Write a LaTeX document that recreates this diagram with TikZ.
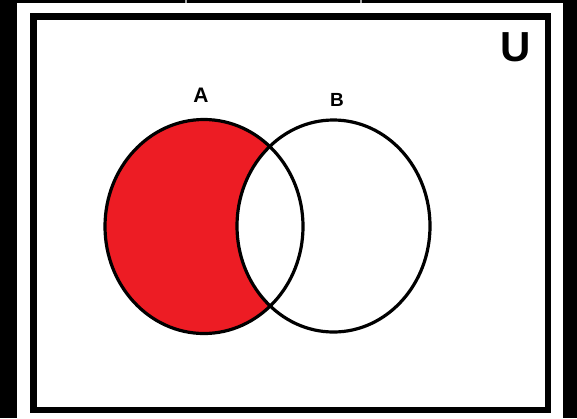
\documentclass[tikz,border=0pt]{standalone}
\usepackage{fontspec}
\setmainfont{Liberation Sans}
\definecolor{vred}{HTML}{ED1C24}
\tikzset{
  setline/.style={draw=black, line width=3.2pt},
  lbl/.style={font=\bfseries, inner sep=0pt},
}
\begin{document}
\begin{tikzpicture}[x=1pt,y=-1pt]
  \useasboundingbox (0,0) rectangle (577,418);
  \fill[black] (0,0) rectangle (577,418);
  \draw[gray!70, line width=1.5pt] (186,0) -- (186,3);
  \draw[gray!70, line width=1.5pt] (361,0) -- (361,3);
  % universe
  \fill[white] (17,3) rectangle (563,418);
  \draw[draw=black, line width=6.5pt] (33.5,16.5) rectangle (548,410);
  % A minus B
  \fill[vred] (204,226.5) ellipse [x radius=99, y radius=107];
  \begin{scope}
    \clip (204,226.5) ellipse [x radius=99, y radius=107];
    \fill[white] (333.5,226) ellipse [x radius=96.5, y radius=106];
  \end{scope}
  \draw[setline] (204,226.5) ellipse [x radius=99, y radius=107];
  \draw[setline] (333.5,226) ellipse [x radius=96.5, y radius=106];
  % labels
  \node[lbl, font=\bfseries\fontsize{21}{21}\selectfont] (la) at (201,95.5) {A};
  \node[lbl, font=\bfseries\fontsize{19}{19}\selectfont] (lb) at (337,100) {B};
  \node[lbl, font=\bfseries\fontsize{42}{42}\selectfont] (lu) at (516,47) {U};
\end{tikzpicture}
\end{document}
